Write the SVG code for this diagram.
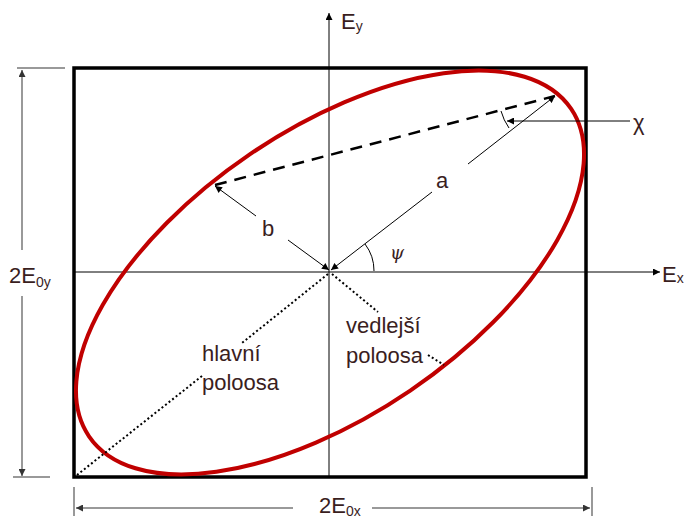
<svg xmlns="http://www.w3.org/2000/svg" width="684" height="519" viewBox="0 0 684 519">
<style>
.t{font-family:"Liberation Sans",Arial,sans-serif;fill:#3a1e1e;font-size:22px}
.s{font-size:14px}
.thin{stroke:#000;stroke-width:1;fill:none}
.dim{stroke:#777;stroke-width:1.5;fill:none}
.dot{stroke:#000;stroke-width:2;stroke-dasharray:2 2.5;fill:none}
</style>
<defs>
<marker id="ah" viewBox="0 0 10 10" refX="10" refY="5" markerWidth="9" markerHeight="7" markerUnits="userSpaceOnUse" orient="auto-start-reverse"><path d="M0,0 L10,5 L0,10 z" fill="#000"/></marker>
<marker id="ahg" viewBox="0 0 10 10" refX="10" refY="5" markerWidth="9" markerHeight="7" markerUnits="userSpaceOnUse" orient="auto-start-reverse"><path d="M0,0 L10,5 L0,10 z" fill="#333"/></marker>
</defs>
<rect width="684" height="519" fill="#fff"/>
<g id="frame">
<rect x="74" y="68" width="512" height="409" fill="none" stroke="#000" stroke-width="3.5"/>
</g>
<g id="axes">
<line class="thin" x1="329" y1="477" x2="329" y2="13" marker-end="url(#ah)"/>
<line class="thin" x1="75" y1="272" x2="660" y2="272" marker-end="url(#ah)"/>
<text class="t" x="341" y="29">E<tspan class="s" dy="2">y</tspan></text>
<text class="t" x="662" y="282">E<tspan class="s" dy="1">x</tspan></text>
</g>
<g id="ellipse">
<ellipse cx="330" cy="272.5" rx="291.4" ry="142.8" transform="rotate(-34.2 330 272.5)" fill="none" stroke="#c00000" stroke-width="4"/>
</g>
<g id="connectors">
<line x1="215" y1="185" x2="555" y2="96" stroke="#000" stroke-width="2.5" stroke-dasharray="12 8"/>
<line class="thin" x1="432" y1="192" x2="331" y2="270" marker-end="url(#ah)"/>
<line class="thin" x1="468" y1="164" x2="555" y2="96" marker-end="url(#ah)"/>
<line class="thin" x1="256" y1="216" x2="215" y2="186" marker-end="url(#ah)"/>
<line class="thin" x1="288" y1="240" x2="329" y2="270" marker-end="url(#ah)"/>
<line class="thin" x1="630" y1="121" x2="507" y2="121" marker-end="url(#ah)"/>
<path class="thin" d="M501,111 A56,56 0 0 0 509,128"/>
<path class="thin" d="M365,244 A44,44 0 0 1 374,271"/>
<line class="dot" x1="328" y1="274" x2="242" y2="343"/>
<line class="dot" x1="202" y1="376" x2="77" y2="475"/>
<line class="dot" x1="332" y1="274" x2="378" y2="312"/>
<line class="dot" x1="428" y1="355" x2="444" y2="365"/>
</g>
<g id="labels">
<text class="t" x="436" y="188">a</text>
<text class="t" x="262" y="236">b</text>
<text x="390" y="259" style="font-family:'DejaVu Serif',serif;font-style:italic;font-size:18px;fill:#3a1e1e">ψ</text>
<text class="t" x="633" y="130">χ</text>
<text class="t" x="202" y="361">hlavní</text>
<text class="t" x="202" y="390">poloosa</text>
<text class="t" x="346" y="333">vedlejší</text>
<text class="t" x="346" y="363">poloosa</text>
</g>
<g id="dimensions">
<line class="dim" x1="17" y1="68" x2="65" y2="68"/>
<line class="dim" x1="13" y1="477" x2="50" y2="477"/>
<line class="dim" x1="22" y1="250" x2="22" y2="70" marker-end="url(#ahg)"/>
<line class="dim" x1="22" y1="296" x2="22" y2="476" marker-end="url(#ahg)"/>
<text class="t" x="9" y="283">2E<tspan class="s" dy="4">0y</tspan></text>
<line class="dim" x1="74" y1="487" x2="74" y2="516"/>
<line class="dim" x1="592" y1="487" x2="592" y2="516"/>
<line class="dim" x1="293" y1="508" x2="76" y2="508" marker-end="url(#ahg)"/>
<line class="dim" x1="372" y1="508" x2="590" y2="508" marker-end="url(#ahg)"/>
<text class="t" x="319" y="513">2E<tspan class="s" dy="3">0x</tspan></text>
</g>
</svg>
